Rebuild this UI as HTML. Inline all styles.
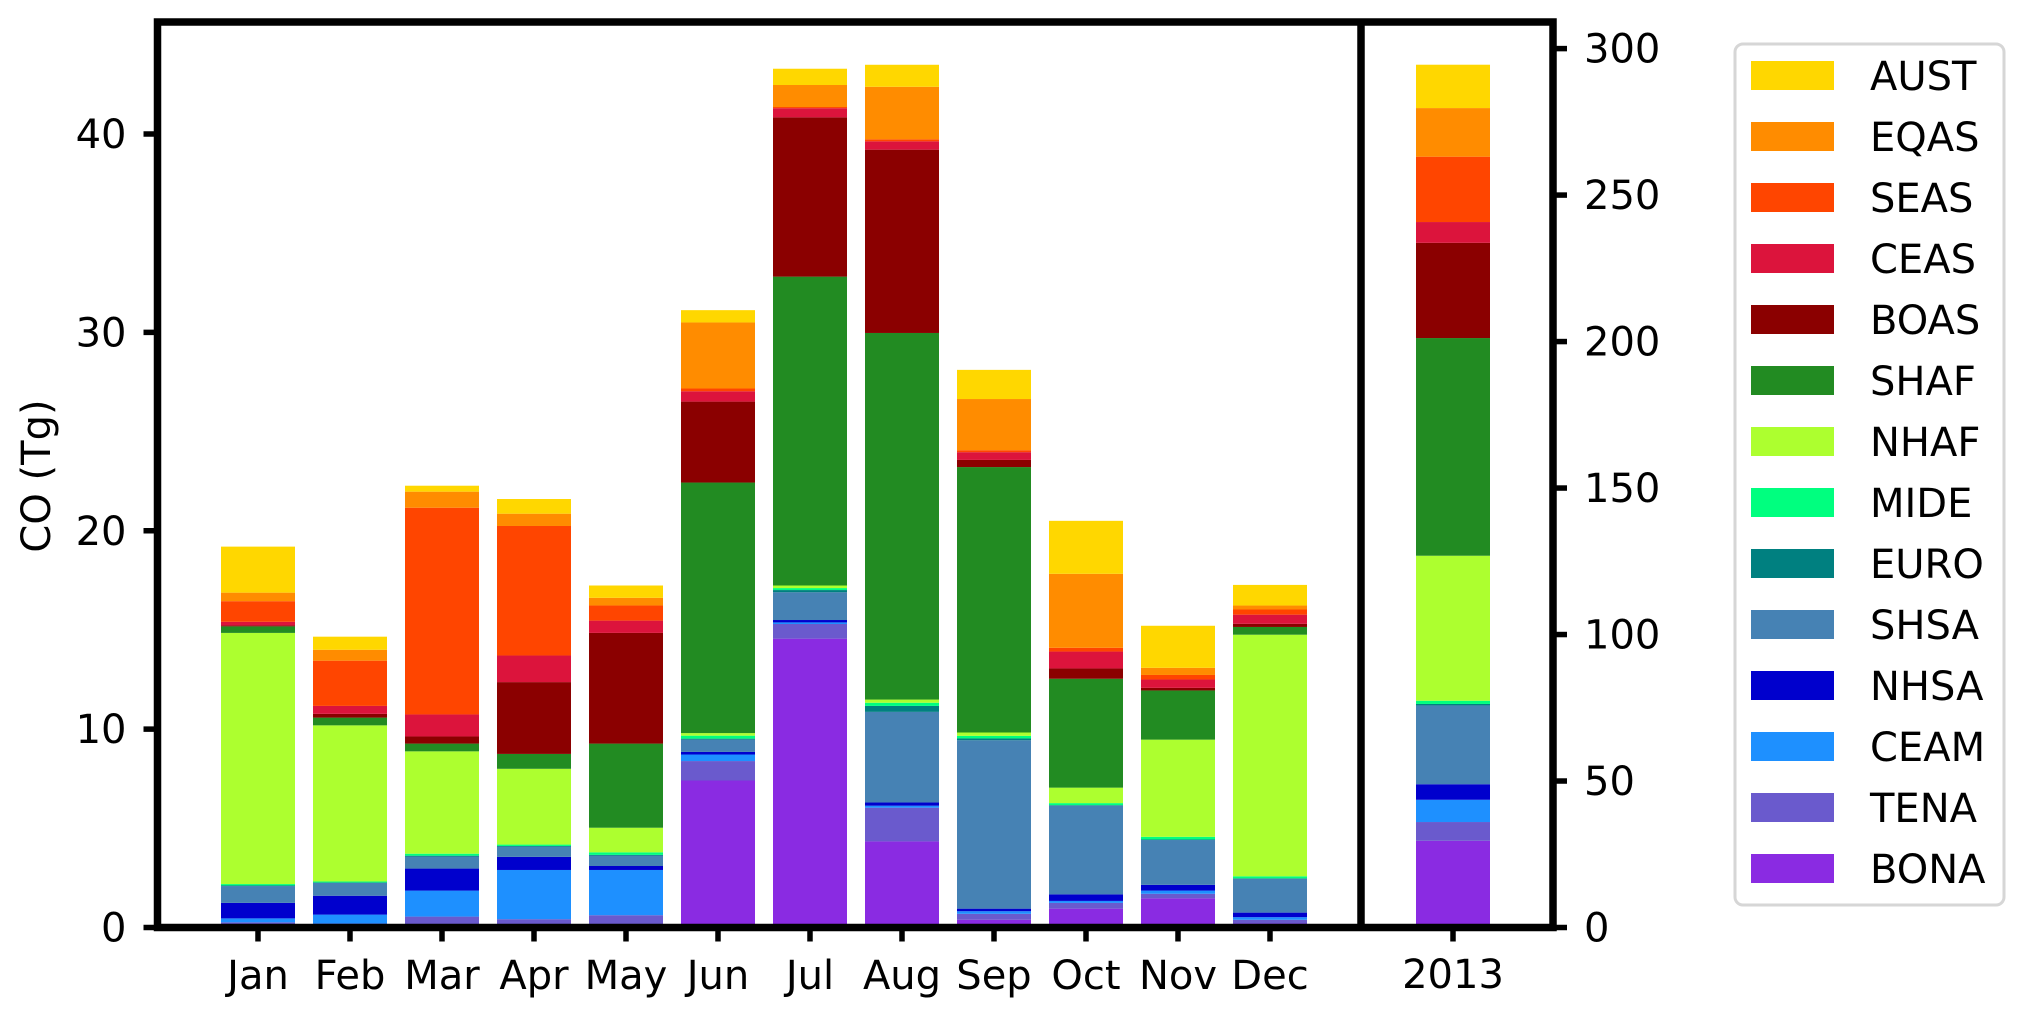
<!DOCTYPE html>
<html><head><meta charset="utf-8">
<style>
html,body{margin:0;padding:0;background:#fff;}
svg{display:block;font-family:"DejaVu Sans","Liberation Sans",sans-serif;}
</style></head>
<body>
<svg id="chart" width="2027" height="1016" viewBox="0 0 2027 1016" xmlns="http://www.w3.org/2000/svg"></svg>
<script>
const months = ["Jan","Feb","Mar","Apr","May","Jun","Jul","Aug","Sep","Oct","Nov","Dec"];
const regions = ["BONA","TENA","CEAM","NHSA","SHSA","EURO","MIDE","NHAF","SHAF","BOAS","CEAS","SEAS","EQAS","AUST"];
const colors = ["#8a2be2","#6a5acd","#1e90ff","#0000cd","#4682b4","#008080","#00ff7f","#adff2f","#228b22","#8b0000","#dc143c","#ff4500","#ff8c00","#ffd700"];
const BONA = [0.13,0.1,0.1,0.1,0.15,7.41,14.56,4.34,0.39,0.95,1.47,0.2];
const TENA = [0.13,0.1,0.45,0.32,0.47,0.98,0.74,1.7,0.3,0.29,0.23,0.19];
const CEAM = [0.2,0.45,1.31,2.48,2.28,0.33,0.08,0.1,0.13,0.1,0.16,0.13];
const NHSA = [0.78,0.95,1.11,0.66,0.2,0.13,0.12,0.16,0.13,0.33,0.29,0.23];
const SHSA = [0.85,0.65,0.61,0.52,0.53,0.62,1.4,4.57,8.49,4.47,2.26,1.7];
const EURO = [0.03,0.02,0.04,0.03,0.03,0.05,0.11,0.3,0.09,0.03,0.03,0.03];
const MIDE = [0.07,0.05,0.1,0.07,0.13,0.15,0.1,0.16,0.13,0.1,0.13,0.1];
const NHAF = [12.66,7.87,5.16,3.82,1.24,0.13,0.13,0.16,0.17,0.78,4.9,12.18];
const SHAF = [0.33,0.39,0.39,0.75,4.24,12.63,15.57,18.48,13.38,5.49,2.48,0.39];
const BOAS = [0.05,0.19,0.36,3.62,5.58,4.08,8.03,9.24,0.36,0.52,0.13,0.16];
const CEAS = [0.18,0.4,1.11,1.34,0.62,0.52,0.46,0.42,0.39,0.85,0.42,0.46];
const SEAS = [1.04,2.28,10.42,6.53,0.76,0.14,0.06,0.1,0.1,0.19,0.23,0.26];
const EQAS = [0.43,0.55,0.81,0.62,0.39,3.33,1.11,2.65,2.58,3.73,0.36,0.2];
const AUST = [2.32,0.66,0.3,0.74,0.62,0.62,0.82,1.11,1.47,2.67,2.12,1.04];
const annualLabel = "2013";
const annual = [29.6,6.4,7.6,5.3,26.9,0.5,1.1,49.5,74.3,32.5,7.1,22.3,16.6,14.8];
const leftTicks = [0,10,20,30,40];
const rightTicks = [0,50,100,150,200,250,300];

const series = [BONA,TENA,CEAM,NHSA,SHSA,EURO,MIDE,NHAF,SHAF,BOAS,CEAS,SEAS,EQAS,AUST];
const NS = "http://www.w3.org/2000/svg";
const svg = document.getElementById("chart");
function mk(tag, attrs, parent){const e=document.createElementNS(NS,tag);for(const k in attrs)e.setAttribute(k,attrs[k]);(parent||svg).appendChild(e);return e;}

const L=157.5,T=22,B=927.5,DIV=1361,R=1553;
const FS=40;
const yL = v => B - v*(B-134)/40;
const yR = v => B - v*(B-48.6)/300;
const xM = i => 258 + i*92;
const xA = 1453;
const bw = 74;

months.forEach((m,i)=>{
  let cum=0;
  series.forEach((s,k)=>{
    const v=s[i];
    const r=mk("rect",{x:xM(i)-bw/2,y:yL(cum+v),width:bw,height:yL(cum)-yL(cum+v),fill:colors[k]});
    
    
    cum+=v;
  });
});
{
  let cum=0;
  annual.forEach((v,k)=>{
    const r=mk("rect",{x:xA-bw/2,y:yR(cum+v),width:bw,height:yR(cum)-yR(cum+v),fill:colors[k]});
    
    
    cum+=v;
  });
}
const fr=mk("rect",{x:L,y:T,width:R-L,height:B-T,fill:"none",stroke:"#000","stroke-width":7.5});


const dv=mk("line",{x1:DIV,y1:T,x2:DIV,y2:B,stroke:"#000","stroke-width":7.5});



leftTicks.forEach(t=>{
  mk("line",{x1:L-14,y1:yL(t),x2:L,y2:yL(t),stroke:"#000","stroke-width":5.5});
  const tx=mk("text",{x:L-31,y:yL(t)+14,"text-anchor":"end","font-size":FS,fill:"#000"});
  tx.textContent=t;
  
  
});
rightTicks.forEach(t=>{
  mk("line",{x1:R,y1:yR(t),x2:R+14,y2:yR(t),stroke:"#000","stroke-width":5.5});
  const tx=mk("text",{x:R+31,y:yR(t)+14,"font-size":FS,fill:"#000"});
  tx.textContent=t;
  
  
});
months.forEach((m,i)=>{
  mk("line",{x1:xM(i),y1:B,x2:xM(i),y2:B+14,stroke:"#000","stroke-width":5.5});
  const tx=mk("text",{x:xM(i),y:989,"text-anchor":"middle","font-size":FS,fill:"#000"});
  tx.textContent=m;
  
  
});
mk("line",{x1:xA,y1:B,x2:xA,y2:B+14,stroke:"#000","stroke-width":5.5});
{
  const tx=mk("text",{x:xA,y:988,"text-anchor":"middle","font-size":FS,fill:"#000"});
  tx.textContent=annualLabel;
  
  
}
{
  const tx=mk("text",{x:0,y:0,"text-anchor":"middle","font-size":FS,fill:"#000",transform:"translate(50,476) rotate(-90)"});
  tx.textContent="CO (Tg)";
  
  
}
{
  const g=mk("g",{});
  
  
  mk("rect",{x:1735,y:44,width:269,height:861,rx:8,fill:"#fff",stroke:"#d6d6d6","stroke-width":3},g);
  for(let j=0;j<regions.length;j++){
    const k=regions.length-1-j;
    const cy=75.5+j*61;
    const r=mk("rect",{x:1751,y:cy-14.5,width:83,height:29,fill:colors[k]},g);
    
    
    const tx=mk("text",{x:1870,y:cy+14.5,"font-size":FS,fill:"#000"},g);
    tx.textContent=regions[k];
    
    
  }
}
</script>
</body></html>
